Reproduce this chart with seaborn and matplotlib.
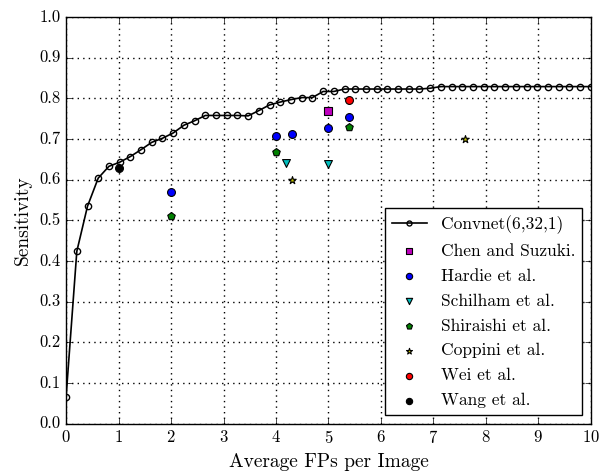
import matplotlib
matplotlib.use('Agg')
import matplotlib.pyplot as plt
import seaborn as sns

# Convnet(6,32,1) FROC curve
convnet_fp = [0.0, 0.204, 0.408, 0.612, 0.816, 1.020, 1.224, 1.429, 1.633, 1.837,
              2.041, 2.245, 2.449, 2.653, 2.857, 3.061, 3.265, 3.469, 3.673, 3.878,
              4.082, 4.286, 4.490, 4.694, 4.898, 5.102, 5.306, 5.510, 5.714, 5.918,
              6.122, 6.327, 6.531, 6.735, 6.939, 7.143, 7.347, 7.551, 7.755, 7.959,
              8.163, 8.367, 8.571, 8.776, 8.980, 9.184, 9.388, 9.592, 9.796, 10.0]
convnet_sens = [0.067, 0.424, 0.535, 0.604, 0.633, 0.643, 0.657, 0.674, 0.692, 0.702,
                0.715, 0.734, 0.745, 0.758, 0.758, 0.758, 0.758, 0.757, 0.770, 0.784,
                0.791, 0.797, 0.802, 0.802, 0.817, 0.817, 0.823, 0.823, 0.823, 0.823,
                0.823, 0.823, 0.823, 0.823, 0.825, 0.829, 0.829, 0.829, 0.829, 0.829,
                0.829, 0.829, 0.829, 0.829, 0.829, 0.829, 0.829, 0.829, 0.829, 0.829]

# other methods
methods = ['Chen and Suzuki.', 'Hardie et al.', 'Schilham et al.', 'Shiraishi et al.',
           'Coppini et al.', 'Wei et al.', 'Wang et al.']
method_fp = [[5.0], [2.0, 4.0, 4.3, 5.0, 5.4], [4.2, 5.0], [2.0, 4.0, 5.4],
             [4.3, 7.6], [5.4], [1.0]]
method_sens = [[0.770], [0.570, 0.708, 0.712, 0.727, 0.755], [0.640, 0.638],
               [0.510, 0.669, 0.729], [0.599, 0.700], [0.797], [0.628]]
method_colors = ['m', 'b', 'c', 'g', 'y', 'r', 'k']
method_markers = ['s', 'o', 'v', 'p', '*', 'o', 'o']

plt.style.use('classic')
plt.rcParams['font.family'] = ['cmr10', 'DejaVu Serif']
plt.rcParams['axes.formatter.use_mathtext'] = True
plt.rcParams['font.size'] = 12

fig, ax = plt.subplots(figsize=(6.01, 4.73), dpi=100)
fig.subplots_adjust(left=0.11, right=0.983, top=0.964, bottom=0.104)

sns.lineplot(x=convnet_fp, y=convnet_sens, color='k', marker='o', markersize=4.5,
             markerfacecolor='none', markeredgecolor='k', markeredgewidth=1,
             linewidth=1.2, label='Convnet(6,32,1)', ax=ax, zorder=3)

for name, fp, sens, c, m in zip(methods, method_fp, method_sens, method_colors, method_markers):
    sns.scatterplot(x=fp, y=sens, color=c, marker=m, s=32, edgecolor='k',
                    linewidth=0.8, label=name, ax=ax, zorder=4)

ax.set_xlim(0, 10)
ax.set_ylim(0, 1.0)
ax.set_xticks(range(0, 11))
ax.set_yticks([i / 10 for i in range(11)])
ax.set_yticklabels(['%.1f' % (i / 10) for i in range(11)])
ax.grid(True, color='k', linestyle=':', linewidth=1)
ax.set_xlabel('Average FPs per Image', fontsize=14)
ax.set_ylabel('Sensitivity', fontsize=14)
ax.tick_params(labelsize=12)

ax.legend(loc='lower right', numpoints=1, scatterpoints=1, fontsize=12.5,
          handlelength=2.0, labelspacing=0.55, markerscale=0.8, fancybox=False)

fig.savefig('out.png', dpi=100)
